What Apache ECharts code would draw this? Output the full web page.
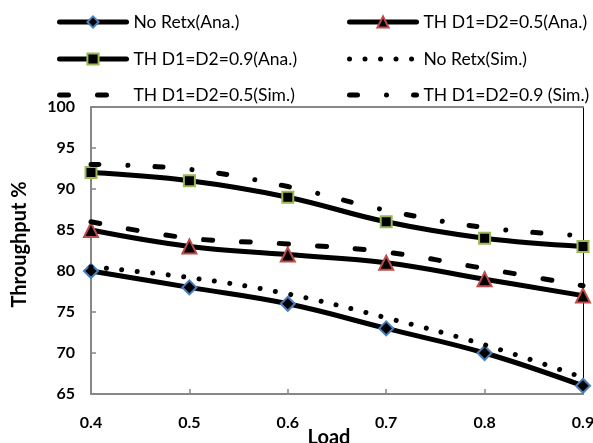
<!DOCTYPE html>
<html>
<head>
<meta charset="utf-8">
<script src="https://cdn.jsdelivr.net/npm/echarts@6/dist/echarts.min.js"></script>
<style>
  html, body { margin: 0; padding: 0; background: #fff; }
  #chart { width: 593px; height: 443px; }
</style>
</head>
<body>
<div id="chart"></div>
<script>
// Load values on the x axis
const loads = ['0.4', '0.5', '0.6', '0.7', '0.8', '0.9'];

// Throughput (%) — analytical results
const noRetxAna = [80, 78, 76, 73, 70, 66];
const th05Ana   = [85, 83, 82, 81, 79, 77];
const th09Ana   = [92, 91, 89, 86, 84, 83];

// Throughput (%) — simulation results
const noRetxSim = [80.5, 79.2, 77.2, 74.3, 71, 67];
const th05Sim   = [86, 84, 83.3, 82.3, 80.3, 78.2];
const th09Sim   = [93, 92.4, 90.3, 87.4, 85.3, 84.3];

// Y axis range and step
const yMin = 65, yMax = 100, yStep = 5;

const FONT = 'Lato, "Open Sans", sans-serif';
const AXIS_GREY = '#878787';

function anaSeries(name, data, symbol, border) {
  return {
    name, type: 'line', data, smooth: 0.4,
    symbol, symbolSize: symbol === 'rect' ? 11 : 14,
    lineStyle: { color: '#000', width: 5 },
    itemStyle: { color: '#000', borderColor: border, borderWidth: 2 },
    z: 3
  };
}

function simSeries(name, data, dash) {
  return {
    name, type: 'line', data, smooth: 0.4,
    symbol: 'none',
    lineStyle: { color: '#000', width: 5, type: dash, cap: 'round' },
    itemStyle: { color: '#000' },
    z: 4
  };
}

function legendFor(name, left, top, noSymbol) {
  const l = {
    data: [name], left, top, padding: 0,
    itemWidth: 67, itemHeight: 14, itemGap: 0,
    lineStyle: { width: 5, cap: 'round' },
    textStyle: { fontFamily: FONT, fontSize: 17.5, color: '#000', padding: [8, 0, 0, 2] },
    selectedMode: false
  };
  if (noSymbol) l.itemStyle = { opacity: 0 };
  return l;
}

const chart = echarts.init(document.getElementById('chart'));
chart.setOption({
  animation: false,
  backgroundColor: '#fff',
  legend: [
    legendFor('No Retx(Ana.)', 57, 13),
    legendFor('TH D1=D2=0.5(Ana.)', 347, 13),
    legendFor('TH D1=D2=0.9(Ana.)', 57, 50),
    legendFor('No Retx(Sim.)', 347, 50, true),
    legendFor('TH D1=D2=0.5(Sim.)', 57, 86, true),
    legendFor('TH D1=D2=0.9 (Sim.)', 347, 86, true)
  ],
  grid: { left: 91, right: 10, top: 107, bottom: 49, containLabel: false, outerBoundsMode: 'none' },
  xAxis: [{
    type: 'category', data: loads, boundaryGap: false,
    name: 'Load', nameLocation: 'middle', nameGap: 34, nameMoveOverlap: false,
    nameTextStyle: { fontFamily: FONT, fontSize: 20, fontWeight: 'bold', color: '#000', padding: [0, 16, 0, 0] },
    axisLine: { lineStyle: { color: AXIS_GREY, width: 2 } },
    axisTick: { inside: true, length: 5, alignWithLabel: true, lineStyle: { color: AXIS_GREY, width: 1.5 } },
    axisLabel: { fontFamily: FONT, fontSize: 16, fontWeight: 'bold', color: '#000', margin: 21 },
    splitLine: { show: false }
  }, {
    type: 'category', data: loads, boundaryGap: false, position: 'top',
    axisLine: { lineStyle: { color: AXIS_GREY, width: 2 } },
    axisTick: { show: false }, axisLabel: { show: false }, splitLine: { show: false }
  }],
  yAxis: [{
    type: 'value', min: yMin, max: yMax, interval: yStep,
    name: 'Throughput %', nameLocation: 'middle', nameGap: 61, nameRotate: 90, nameMoveOverlap: false,
    nameTextStyle: { fontFamily: FONT, fontSize: 20, fontWeight: 'bold', color: '#000', padding: [0, 0, 0, 12] },
    axisLine: { show: true, lineStyle: { color: AXIS_GREY, width: 2 } },
    axisTick: { show: true, inside: true, length: 5, lineStyle: { color: AXIS_GREY, width: 1.5 } },
    axisLabel: { fontFamily: FONT, fontSize: 16, fontWeight: 'bold', color: '#000', margin: 16, padding: [8, 0, 0, 0] },
    splitLine: { show: false }
  }, {
    type: 'value', min: yMin, max: yMax, interval: yStep, position: 'right',
    axisLine: { show: true, lineStyle: { color: '#000', width: 1 } },
    axisTick: { show: false }, axisLabel: { show: false }, splitLine: { show: false }
  }],
  series: [
    anaSeries('No Retx(Ana.)', noRetxAna, 'diamond', '#4a7ebb'),
    anaSeries('TH D1=D2=0.5(Ana.)', th05Ana, 'triangle', '#be4b48'),
    anaSeries('TH D1=D2=0.9(Ana.)', th09Ana, 'rect', '#98b954'),
    simSeries('No Retx(Sim.)', noRetxSim, [0.01, 15.5]),
    simSeries('TH D1=D2=0.5(Sim.)', th05Sim, [9, 29]),
    simSeries('TH D1=D2=0.9 (Sim.)', th09Sim, [8, 29, 0.01, 27])
  ]
});
</script>
</body>
</html>
